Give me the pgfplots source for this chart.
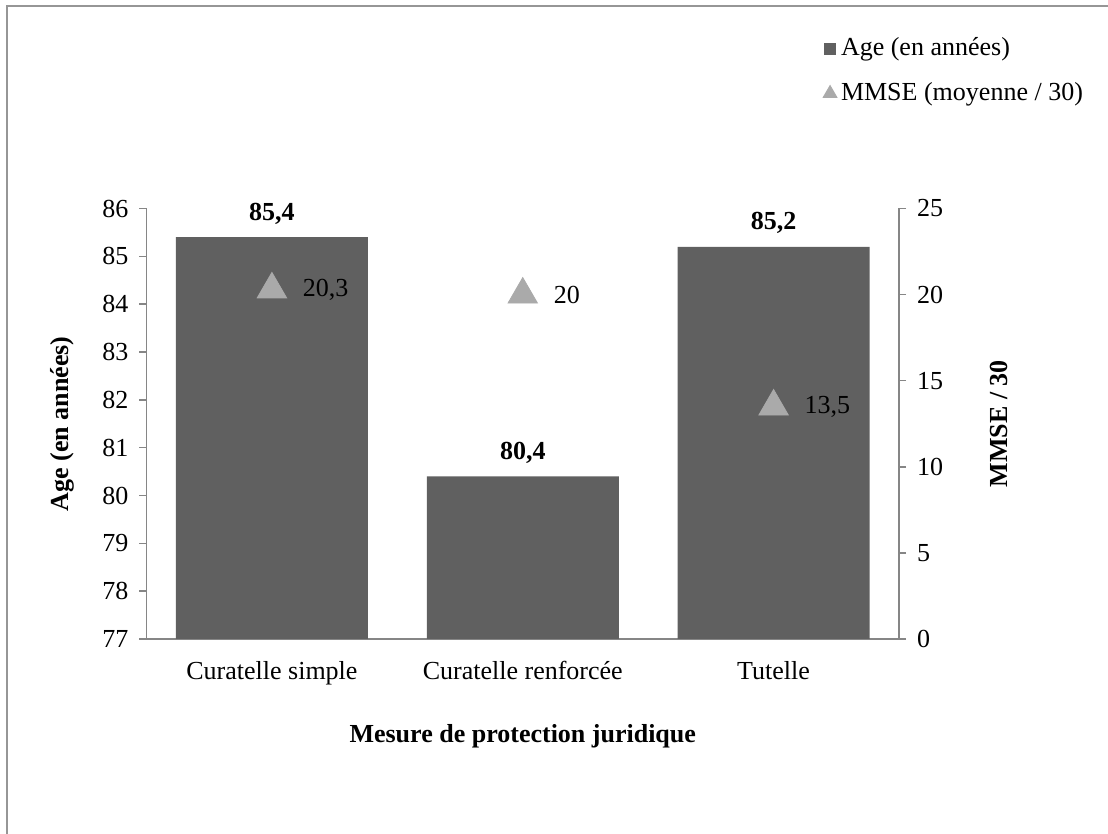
\documentclass[border=0pt]{standalone}
\usepackage{fontspec}
\setmainfont{Liberation Serif}
\usepackage{pgfplots}
\pgfplotsset{compat=1.18}
\definecolor{bardark}{RGB}{96,96,96}
\definecolor{trigray}{RGB}{170,170,170}
\definecolor{axgray}{RGB}{134,134,134}
\definecolor{framegray}{RGB}{150,150,150}
\begin{document}
\fontsize{13pt}{15pt}\selectfont
\begin{tikzpicture}[x=1pt,y=1pt]
\useasboundingbox (-73.25,-97.5) rectangle (480.75,319.5);
\draw[framegray, line width=1.2pt] (-69.75,-97.5) -- (-69.75,316.5) -- (480.75,316.5);
\begin{axis}[
  at={(0,0)}, anchor=south west,
  scale only axis, width=376.25pt, height=215.25pt,
  xmin=-0.5, xmax=2.5, ymin=77, ymax=86,
  ytick={77,78,...,86},
  xtick={0,1,2},
  xticklabels={Curatelle simple, Curatelle renforcée, Tutelle},
  axis y line*=left, axis x line*=bottom,
  axis line style={axgray, line width=0.8pt, -},
  x tick style={draw=none},
  y tick style={axgray, line width=0.8pt},
  tick align=outside, major tick length=3.5pt,
  ticklabel style={font=\fontsize{13pt}{15pt}\selectfont},
  /pgf/number format/assume math mode=true,
  xticklabel style={yshift=-3pt},
  yticklabel style={xshift=-1pt},
  ylabel={\textbf{Age (en années)}},
  ylabel style={at={(axis description cs:-0.1123,0.5)}, anchor=center, font=\fontsize{13pt}{15pt}\selectfont},
  xlabel={\textbf{Mesure de protection juridique}},
  xlabel style={at={(axis description cs:0.5,-0.2253)}, anchor=center, font=\fontsize{13pt}{15pt}\selectfont},
]
\addplot[ybar, bar width=96pt, fill=bardark, draw=none,
  nodes near coords, point meta=explicit symbolic,
  nodes near coords style={font=\bfseries\fontsize{13pt}{15pt}\selectfont, black, anchor=south, yshift=2pt}]
  coordinates {(0,85.4)[85,4] (1,80.4)[80,4] (2,85.2)[85,2]};
\end{axis}
\begin{axis}[
  at={(0,0)}, anchor=south west,
  scale only axis, width=376.25pt, height=215.25pt,
  xmin=-0.5, xmax=2.5, ymin=0, ymax=25,
  ytick={0,5,...,25},
  axis y line*=right, axis x line=none,
  axis line style={axgray, line width=0.8pt, -},
  y tick style={axgray, line width=0.8pt},
  tick align=outside, major tick length=3.5pt,
  ticklabel style={font=\fontsize{13pt}{15pt}\selectfont},
  yticklabel style={xshift=1pt},
  /pgf/number format/assume math mode=true,
  ylabel={\textbf{MMSE / 30}},
  ylabel style={at={(axis description cs:1.133,0.5)}, anchor=center, font=\fontsize{13pt}{15pt}\selectfont},
  clip=false,
  legend style={at={(axis description cs:0.896,1.412)}, anchor=north west, draw=none, fill=none,
    row sep=7.5pt, font=\fontsize{13pt}{15pt}\selectfont, inner sep=1pt},
  legend cell align=left,
]
\addlegendimage{legend image code/.code={\fill[bardark] (0pt,-2.8pt) rectangle (5.6pt,2.8pt);}}
\addlegendentry{Age (en années)}
\addplot[only marks, mark=triangle*, mark size=8.5pt, color=trigray,
  nodes near coords, point meta=explicit symbolic,
  nodes near coords style={anchor=west, xshift=11pt, yshift=0pt, black, font=\fontsize{13pt}{15pt}\selectfont},
  legend image code/.code={\draw[trigray, mark=triangle*, mark size=4pt] plot coordinates {(3pt,0pt)};}]
  coordinates {(0,20.3)[20,3] (1,20)[20] (2,13.5)[13,5]};
\addlegendentry{MMSE (moyenne / 30)}
\end{axis}
\end{tikzpicture}
\end{document}
